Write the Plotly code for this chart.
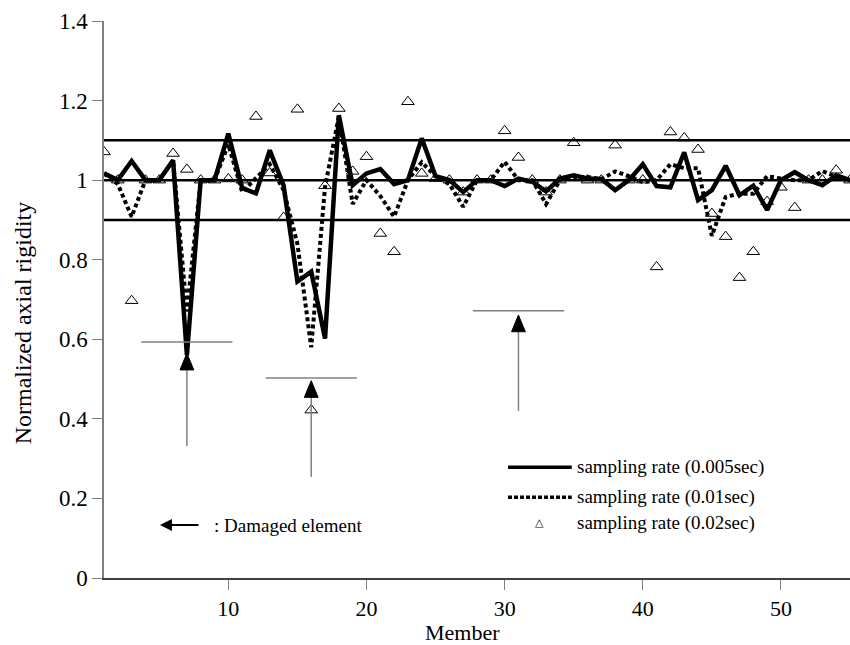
import plotly.graph_objects as go

members = list(range(1, 56))

rate_0005 = [1.017, 1.0, 1.048, 1.0, 1.0, 1.05, 0.56, 1.0, 1.0, 1.117,
             0.98, 0.967, 1.075, 0.987, 0.745, 0.77, 0.602, 1.163, 0.987, 1.017,
             1.028, 0.99, 1.0, 1.105, 1.01, 1.0, 0.97, 1.0, 1.0, 0.985,
             1.004, 0.996, 0.972, 1.004, 1.012, 1.004, 1.003, 0.975, 1.0, 1.04,
             0.985, 0.982, 1.07, 0.95, 0.975, 1.036, 0.962, 0.986, 0.925, 1.0,
             1.02, 1.0, 0.987, 1.012, 1.0]

rate_001 = [1.017, 0.99, 0.908, 1.0, 1.0, 1.05, 0.67, 1.0, 1.0, 1.09,
            0.97, 1.005, 1.04, 0.975, 0.84, 0.58, 0.983, 1.16, 0.94, 1.0,
            0.96, 0.908, 1.0, 1.045, 1.01, 0.99, 0.933, 1.0, 1.0, 1.046,
            1.0, 1.0, 0.94, 1.0, 1.008, 1.008, 1.002, 1.022, 1.01, 0.995,
            1.0, 1.04, 1.03, 1.03, 0.86, 0.958, 0.966, 0.966, 1.01, 1.004,
            1.0, 1.0, 1.023, 1.008, 1.0]

rate_002 = [1.071, 1.0, 0.697, 1.0, 1.0, 1.067, 1.027, 1.0, 1.0, 1.003,
            1.0, 1.16, 1.018, 0.906, 1.178, 0.422, 0.986, 1.18, 1.022, 1.059,
            0.866, 0.82, 1.197, 1.017, 1.004, 1.0, 0.97, 1.0, 1.0, 1.124,
            1.057, 1.0, 0.97, 1.0, 1.094, 1.0, 1.0, 1.088, 1.0, 1.0,
            0.782, 1.121, 1.106, 1.077, 0.916, 0.858, 0.755, 0.82, 0.946, 0.982,
            0.931, 1.0, 1.0, 1.025, 1.0]

ref_levels = [0.9, 1.0, 1.1]

# damaged elements: member, horizontal marker level, arrow tip, arrow tail
damaged = [7, 16, 31]
damage_level = [0.593, 0.503, 0.672]
arrow_tip = [0.565, 0.496, 0.661]
arrow_tail = [0.332, 0.254, 0.42]

xticks = [10, 20, 30, 40, 50]
yticks = [0, 0.2, 0.4, 0.6, 0.8, 1, 1.2, 1.4]
ytext = ["0", "0.2", "0.4", "0.6", "0.8", "1", "1.2", "1.4"]

FONT = "Liberation Serif"

fig = go.Figure()

fig.add_trace(go.Scatter(x=members, y=rate_001, mode="lines",
                         line=dict(color="black", width=4, dash="4px,3px"),
                         name="sampling rate (0.01sec)", showlegend=False))
fig.add_trace(go.Scatter(x=members, y=rate_0005, mode="lines",
                         line=dict(color="black", width=4.5),
                         name="sampling rate (0.005sec)", showlegend=False))
fig.add_trace(go.Scatter(x=members, y=rate_002, mode="markers",
                         marker=dict(symbol="triangle-up-open", size=11,
                                     color="black", line=dict(width=1, color="black")),
                         name="sampling rate (0.02sec)", showlegend=False))

shapes = []
for lv in ref_levels:
    shapes.append(dict(type="line", xref="paper", x0=0, x1=1, yref="y", y0=lv, y1=lv,
                       line=dict(color="black", width=2.5), layer="below"))

head_h = 0.042
head_w = 0.5
seg_half = 3.3
for m, lv, tip, tail in zip(damaged, damage_level, arrow_tip, arrow_tail):
    shapes.append(dict(type="line", xref="x", yref="y", x0=m - seg_half, x1=m + seg_half,
                       y0=lv, y1=lv, line=dict(color="#808080", width=1.5)))
    shapes.append(dict(type="line", xref="x", yref="y", x0=m, x1=m,
                       y0=tail, y1=tip - head_h, line=dict(color="#808080", width=1.5)))
    shapes.append(dict(type="path", xref="x", yref="y",
                       path=f"M {m - head_w},{tip - head_h} L {m + head_w},{tip - head_h} L {m},{tip} Z",
                       fillcolor="black", line=dict(color="black", width=1)))

# legend samples (paper coordinates)
shapes.append(dict(type="line", xref="paper", yref="paper", x0=0.5416, x1=0.627,
                   y0=0.199, y1=0.199, line=dict(color="black", width=3.5)))
shapes.append(dict(type="line", xref="paper", yref="paper", x0=0.5416, x1=0.627,
                   y0=0.145, y1=0.145, line=dict(color="black", width=3.5, dash="4px,2px")))

annotations = [
    dict(xref="paper", yref="paper", x=0.631, y=0.199, xanchor="left", yanchor="middle",
         text="sampling rate (0.005sec)", showarrow=False, font=dict(family=FONT, size=19, color="black")),
    dict(xref="paper", yref="paper", x=0.631, y=0.145, xanchor="left", yanchor="middle",
         text="sampling rate (0.01sec)", showarrow=False, font=dict(family=FONT, size=19, color="black")),
    dict(xref="paper", yref="paper", x=0.631, y=0.099, xanchor="left", yanchor="middle",
         text="sampling rate (0.02sec)", showarrow=False, font=dict(family=FONT, size=19, color="black")),
    dict(xref="paper", yref="paper", x=0.584, y=0.099, xanchor="center", yanchor="middle",
         text="△", showarrow=False, font=dict(family="DejaVu Sans", size=11, color="black")),
    dict(xref="paper", yref="paper", x=0.075, y=0.095, ax=40, ay=0,
         text="", showarrow=True,
         arrowhead=2, arrowsize=1.2, arrowwidth=2, arrowcolor="black"),
    dict(xref="paper", yref="paper", x=0.145, y=0.095, xanchor="left", yanchor="middle",
         text=": Damaged element", showarrow=False, font=dict(family=FONT, size=19, color="black")),
    dict(xref="paper", yref="paper", x=0.48, y=-0.097, xanchor="center", yanchor="middle",
         text="Member", showarrow=False, font=dict(family=FONT, size=22, color="black")),
    dict(xref="paper", yref="paper", x=-0.1086, y=0.459, xanchor="center", yanchor="middle",
         text="Normalized axial rigidity", textangle=-90, showarrow=False,
         font=dict(family=FONT, size=24, color="black")),
]

fig.update_layout(
    width=850, height=645,
    margin=dict(l=104, r=0, t=21, b=67),
    paper_bgcolor="white", plot_bgcolor="white",
    showlegend=False,
    shapes=shapes, annotations=annotations,
    font=dict(family=FONT, color="black"),
    xaxis=dict(range=[1, 55], tickvals=xticks, ticks="outside", ticklen=10, tickwidth=1,
               tickcolor="#808080", showline=True, linecolor="#404040", linewidth=1.5,
               showgrid=False, zeroline=False, tickfont=dict(family=FONT, size=22, color="black")),
    yaxis=dict(range=[0, 1.4], tickvals=yticks, ticktext=ytext, ticks="outside", ticklen=10,
               tickwidth=1, tickcolor="#808080", showline=True, linecolor="#808080", linewidth=1.5,
               showgrid=False, zeroline=False, tickfont=dict(family=FONT, size=23, color="black")),
)

fig.write_html("out.html")
